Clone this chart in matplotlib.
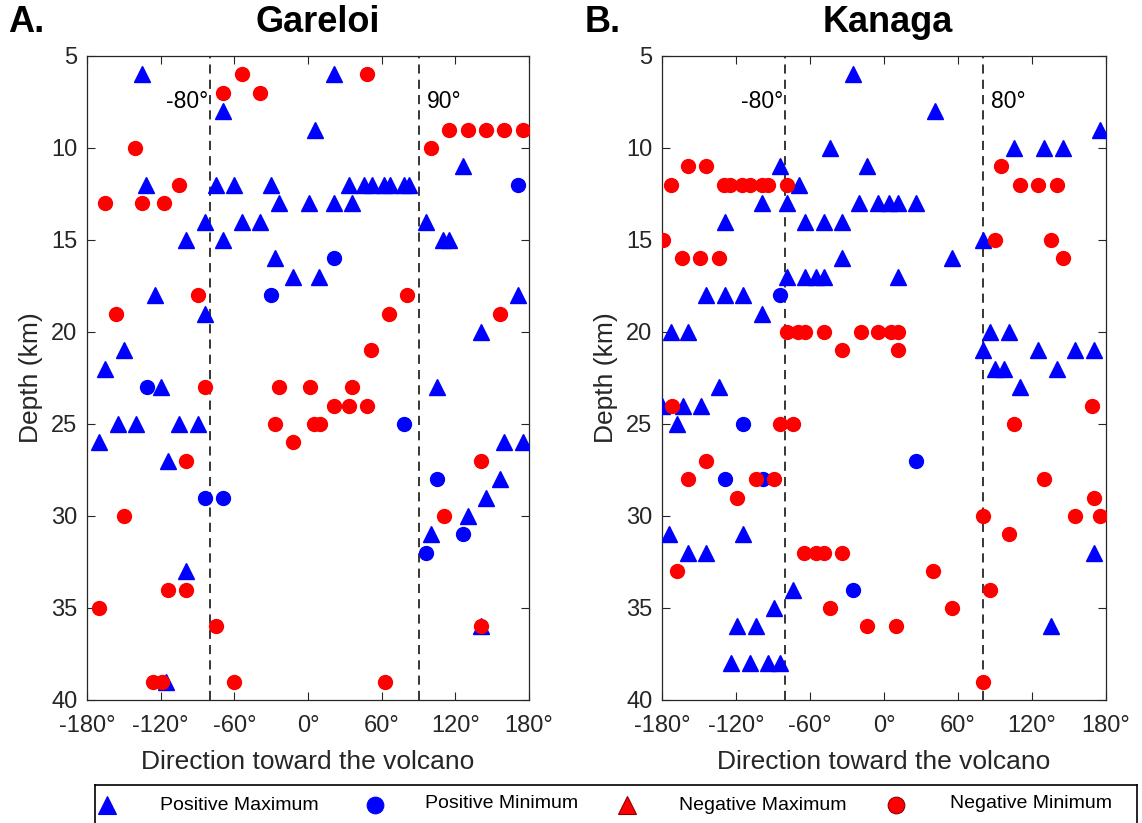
import matplotlib
matplotlib.use('Agg')
import matplotlib.pyplot as plt
from matplotlib import font_manager

# ---------------- data ----------------
# Gareloi
gar_posmax_dir = [-135, 21, -69, 6, 126,
                  -132, -75, -60, -30, 33, 46, 52, 62, 67, 78, 82,
                  -24, 1, 21, 36,
                  -84, -54, -39, 96,
                  -99, -69, 110, 115,
                  -27, -12, 9, -125, 171, -84, 141, -150, -165,
                  -120, 105,
                  -155, -140, -105, -90,
                  -170, 160, 175, -114, 156, 145, 130, 100, -99, 141, -116]
gar_posmax_dep = [6, 6, 8, 9, 11,
                  12, 12, 12, 12, 12, 12, 12, 12, 12, 12, 12,
                  13, 13, 13, 13,
                  14, 14, 14, 14,
                  15, 15, 15, 15,
                  16, 17, 17, 18, 18, 19, 20, 21, 22,
                  23, 23,
                  25, 25, 25, 25,
                  26, 26, 26, 27, 28, 29, 30, 31, 33, 36, 39]
gar_posmin_dir = [171, 21, -30, -131, 78, 105, -84, -69, 126, 96]
gar_posmin_dep = [12, 16, 18, 23, 25, 28, 29, 29, 31, 32]
gar_negmax_dir = []
gar_negmax_dep = []
gar_negmin_dir = [-54, 48, -69, -39,
                  115, 130, 145, 160, 175,
                  -141, 100, -105,
                  -165, -135, -117,
                  -90, 81, -156, 66, 156, 51,
                  -84, -24, 2, 36,
                  21, 33, 48,
                  -27, 5, 10, -12,
                  -99, 141, -150, 111,
                  -114, -99, -170, -75, 141,
                  -126, -119, -60, 63]
gar_negmin_dep = [6, 6, 7, 7,
                  9, 9, 9, 9, 9,
                  10, 10, 12,
                  13, 13, 13,
                  18, 18, 19, 19, 19, 21,
                  23, 23, 23, 23,
                  24, 24, 24,
                  25, 25, 25, 26,
                  27, 27, 30, 30,
                  34, 34, 35, 36, 36,
                  39, 39, 39, 39]

# Kanaga
kan_posmax_dir = [-25, 41, 175,
                  -44, 105, 130, 145,
                  -84, -14, -69,
                  -99, -79, -20, -5, 4, 11, 26,
                  -129, -64, -49, -34,
                  80, -34, 55,
                  -79, -64, -55, -49, 11,
                  -144, -129, -114, -99,
                  -173, -159, 86, 101,
                  80, 125, 155, 170,
                  90, 97, 140,
                  -134, 110,
                  -180, -163, -148, -168,
                  -174, -114, -159, -144, 170,
                  -74, -89, -119, -104, 135,
                  -124, -109, -94, -84]
kan_posmax_dep = [6, 8, 9,
                  10, 10, 10, 10,
                  11, 11, 12,
                  13, 13, 13, 13, 13, 13, 13,
                  14, 14, 14, 14,
                  15, 16, 16,
                  17, 17, 17, 17, 17,
                  18, 18, 18, 19,
                  20, 20, 20, 20,
                  21, 21, 21, 21,
                  22, 22, 22,
                  23, 23,
                  24, 24, 24, 25,
                  31, 31, 32, 32, 32,
                  34, 35, 36, 36, 36,
                  38, 38, 38, 38]
kan_posmin_dir = [-84, -114, 26, -129, -98, -25]
kan_posmin_dep = [18, 25, 27, 28, 28, 34]
kan_negmax_dir = []
kan_negmax_dep = []
kan_negmin_dir = [-159, -144, 95,
                  -173, -130, -125, -115, -109, -99, -94, -79, 110, 125, 140,
                  -179, 90, 135,
                  -164, -149, -134, 145,
                  -79, -70, -64, -49, -19, -5, 6, 11,
                  -34, 11,
                  -172, 169,
                  -84, -74, 105,
                  -144,
                  -159, -104, -89, 130,
                  -119, 170,
                  80, 155, 175, 101,
                  -65, -55, -49, -34,
                  -168, 40, 86, -44, 55, -14, 10, 80]
kan_negmin_dep = [11, 11, 11,
                  12, 12, 12, 12, 12, 12, 12, 12, 12, 12, 12,
                  15, 15, 15,
                  16, 16, 16, 16,
                  20, 20, 20, 20, 20, 20, 20, 20,
                  21, 21,
                  24, 24,
                  25, 25, 25,
                  27,
                  28, 28, 28, 28,
                  29, 29,
                  30, 30, 30, 31,
                  32, 32, 32, 32,
                  33, 33, 34, 35, 35, 36, 36, 39]

titles = ["Gareloi", "Kanaga"]
panel_letters = ["A.", "B."]
ref_lines = [(-80, 90), (-80, 80)]
ref_labels = [("-80°", "90°"), ("-80°", "80°")]
xticks = [-180, -120, -60, 0, 60, 120, 180]
xticklabels = ["-180°", "-120°", "-60°", "0°", "60°", "120°", "180°"]
yticks = [5, 10, 15, 20, 25, 30, 35, 40]
legend_labels = ["Positive Maximum", "Positive Minimum", "Negative Maximum", "Negative Minimum"]

# ---------------- style ----------------
FAM = 'Liberation Sans'
names = {f.name for f in font_manager.fontManager.ttflist}
NARROW = 'Liberation Sans Narrow' if 'Liberation Sans Narrow' in names else FAM
plt.rcParams['font.family'] = [FAM, 'DejaVu Sans']
GRAY = '#262626'

W, H = 1142, 823
fig = plt.figure(figsize=(W / 100, H / 100), dpi=100)

panels = [
    (gar_posmax_dir, gar_posmax_dep, gar_posmin_dir, gar_posmin_dep,
     gar_negmax_dir, gar_negmax_dep, gar_negmin_dir, gar_negmin_dep),
    (kan_posmax_dir, kan_posmax_dep, kan_posmin_dir, kan_posmin_dep,
     kan_negmax_dir, kan_negmax_dep, kan_negmin_dir, kan_negmin_dep),
]
ax_px = [(87, 56, 529, 700), (662, 56, 1106, 700)]

for i, data in enumerate(panels):
    l, t, r, b = ax_px[i]
    ax = fig.add_axes([l / W, 1 - b / H, (r - l) / W, (b - t) / H])
    pmx, pmy, pnx, pny, nmx, nmy, nnx, nny = data
    ax.plot(pmx, pmy, ls='none', marker='^', ms=11, color='blue', mec='blue', zorder=3)
    ax.plot(pnx, pny, ls='none', marker='o', ms=10, color='blue', mec='blue', zorder=3)
    ax.plot(nmx, nmy, ls='none', marker='^', ms=11, color='red', mec='red', zorder=3)
    ax.plot(nnx, nny, ls='none', marker='o', ms=10, color='red', mec='red', zorder=3)
    for xv in ref_lines[i]:
        ax.axvline(xv, color='black', ls=(0, (6, 4)), lw=1.1, zorder=2)
    ax.text(ref_lines[i][0] - 1.5, 7.45, ref_labels[i][0], ha='right', va='center',
            fontsize=16.5, color='black')
    ax.text(ref_lines[i][1] + 7, 7.45, ref_labels[i][1], ha='left', va='center',
            fontsize=16.5, color='black')
    ax.set_xlim(-180, 180)
    ax.set_ylim(40, 5)
    ax.set_xticks(xticks)
    ax.set_xticklabels(xticklabels)
    ax.set_yticks(yticks)
    ax.tick_params(direction='in', top=True, right=True, length=6, width=0.8,
                   colors=GRAY, labelsize=17)
    ax.tick_params(axis='x', pad=11)
    ax.tick_params(axis='y', pad=7)
    for sp in ax.spines.values():
        sp.set_color(GRAY)
        sp.set_linewidth(0.9)
    ax.set_xlabel("Direction toward the volcano", fontsize=19, color=GRAY, labelpad=9)
    ax.set_ylabel("Depth (km)", fontsize=19, color=GRAY, labelpad=6)

fig.text(318 / W, 1 - 22 / H, titles[0], ha='center', va='center', fontsize=26,
         fontweight='bold', color='black')
fig.text(888 / W, 1 - 22 / H, titles[1], ha='center', va='center', fontsize=26,
         fontweight='bold', color='black')
fig.text(8 / W, 1 - 22 / H, panel_letters[0], ha='left', va='center', fontsize=26,
         fontweight='bold', color='black')
fig.text(585 / W, 1 - 22 / H, panel_letters[1], ha='left', va='center', fontsize=26,
         fontweight='bold', color='black')

# ---------------- legend box ----------------
lx0, lx1, ly0 = 95, 1137, 785
lax = fig.add_axes([lx0 / W, -10 / H, (lx1 - lx0) / W, (H - ly0 + 10) / H])
lax.set_xlim(lx0, lx1)
lax.set_ylim(H + 10, ly0)
lax.set_xticks([])
lax.set_yticks([])
for sp in lax.spines.values():
    sp.set_color('black')
    sp.set_linewidth(1.2)
handles = [('^', 'blue', 107), ('o', 'blue', 375), ('^', 'red', 627), ('o', 'red', 896)]
text_x = [160, 425, 679, 950]
text_y = [805, 803, 805, 803]
for (mk, c, hx), tx, ty, lab in zip(handles, text_x, text_y, legend_labels):
    lax.plot([hx], [805], ls='none', marker=mk, ms=13 if mk == '^' else 12, color=c,
             mec=c if c == 'blue' else '#8b0000', mew=0.8)
    lax.text(tx, ty, lab, ha='left', va='center', fontsize=14, color='black',
             family=[NARROW, 'DejaVu Sans'])

fig.savefig('out.png', dpi=100)
